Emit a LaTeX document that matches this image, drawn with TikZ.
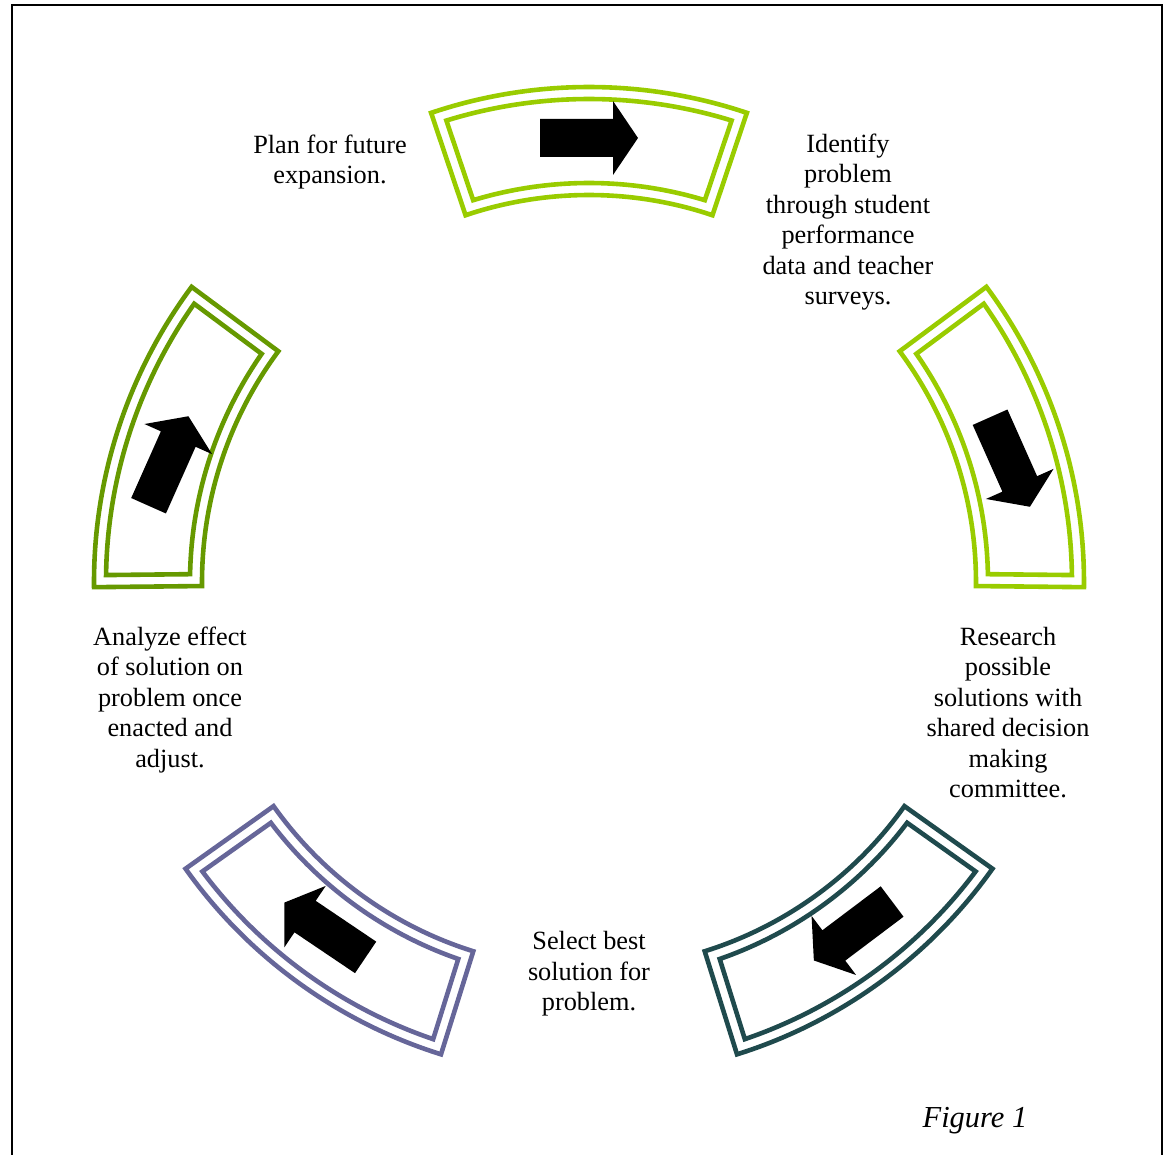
\documentclass[tikz,border=0pt]{standalone}
\usepackage{fontspec}
\setmainfont{Liberation Serif}
\definecolor{segTop}{HTML}{99CC00}
\definecolor{segRight}{HTML}{99CC00}
\definecolor{segBR}{HTML}{1F4A4D}
\definecolor{segBL}{HTML}{666699}
\definecolor{segLeft}{HTML}{669900}
\tikzset{
  segline/.style={line width=4.6pt, line join=miter},
  blockarrow/.style={fill=black, draw=none},
  lbl/.style={align=center, font=\fontsize{26.3}{30.5}\selectfont, inner sep=0pt},
  figlbl/.style={font=\fontsize{30.5}{34}\selectfont\itshape, inner sep=0pt, anchor=base},
  frame/.style={line width=2pt, draw=black}
}
\newcommand{\ringseg}[2]{%
  \pgfmathsetmacro{\aS}{#1-18.6}%
  \pgfmathsetmacro{\aE}{#1+18.6}%
  \pgfmathsetmacro{\dO}{asin(12/483)}%
  \pgfmathsetmacro{\dI}{asin(12/399)}%
  \pgfmathsetmacro{\bSo}{\aS+\dO}%
  \pgfmathsetmacro{\bEo}{\aE-\dO}%
  \pgfmathsetmacro{\bSi}{\aS+\dI}%
  \pgfmathsetmacro{\bEi}{\aE-\dI}%
  \draw[segline,draw=#2] (\aS:387pt) -- (\aS:495pt) arc[start angle=\aS, end angle=\aE, radius=495pt] -- (\aE:387pt) arc[start angle=\aE, end angle=\aS, radius=387pt] -- cycle;
  \draw[segline,draw=#2] (\bSi:399pt) -- (\bSo:483pt) arc[start angle=\bSo, end angle=\bEo, radius=483pt] -- (\bEi:399pt) arc[start angle=\bEi, end angle=\bSi, radius=399pt] -- cycle;
}
\newcommand{\blockarr}[2]{%
  \fill[blockarrow, shift={#1}, rotate=#2] (-49pt,-19pt) -- (24pt,-19pt) -- (24pt,-37pt) -- (49pt,0pt) -- (24pt,37pt) -- (24pt,19pt) -- (-49pt,19pt) -- cycle;
}
\begin{document}
\begin{tikzpicture}[x=1pt,y=1pt]
\useasboundingbox (-589,-573) rectangle (580,582);
\draw[frame] (-577,577) rectangle (573,-600);
% ring segments
\ringseg{90}{segTop}
\ringseg{18}{segRight}
\ringseg{-54}{segBR}
\ringseg{-126}{segBL}
\ringseg{162}{segLeft}
% arrows
\blockarr{(0,444)}{0}
\blockarr{(421,120)}{-66}
\blockarr{(264,-349)}{-143}
\blockarr{(-264,-348)}{146}
\blockarr{(-420.5,121)}{66}
% labels
\node[lbl] (plan) at (-259,420) {Plan for future\\expansion.};
\node[lbl] (ident) at (259,360) {Identify\\problem\\through student\\performance\\data and teacher\\surveys.};
\node[lbl] (research) at (419,-130.5) {Research\\possible\\solutions with\\shared decision\\making\\committee.};
\node[lbl] (select) at (0,-392) {Select best\\solution for\\problem.};
\node[lbl] (analyze) at (-419,-118) {Analyze effect\\of solution on\\problem once\\enacted and\\adjust.};
\node[figlbl] (fig) at (386,-545) {Figure 1};
\end{tikzpicture}
\end{document}
